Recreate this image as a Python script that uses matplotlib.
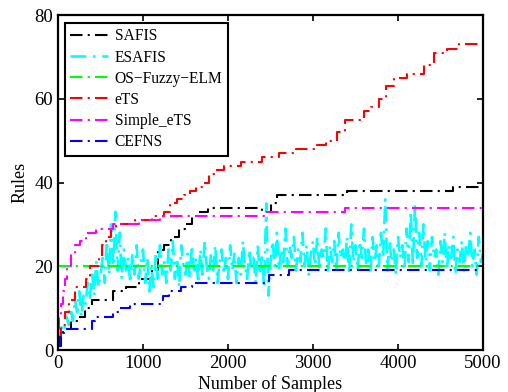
import matplotlib
matplotlib.use("Agg")
import matplotlib.pyplot as plt

plt.rcParams['font.family'] = ['Liberation Serif', 'DejaVu Serif']

# step series given as (sample, rules) breakpoints
safis_x = [0, 30, 60, 150, 250, 320, 400, 650, 800, 950, 1100, 1180, 1250, 1330, 1420,
           1500, 1580, 1650, 1760, 2400, 2500, 2580, 3400, 4650, 5000]
safis_y = [1, 3, 5, 7, 8, 10, 12, 14, 15, 17, 19, 24, 25, 27, 29,
           30, 32, 33, 34, 33, 35, 37, 38, 39, 39]

ets_x = [0, 40, 80, 130, 200, 330, 380, 480, 520, 570, 620, 680, 900, 1100, 1250, 1320,
         1400, 1480, 1550, 1620, 1700, 1780, 1850, 1950, 2150, 2400, 2600, 2800, 3050,
         3150, 3280, 3380, 3600, 3680, 3780, 3860, 3950, 4100, 4300, 4420, 4580, 4720, 5000]
ets_y = [3, 6, 9, 12, 15, 17, 20, 22, 25, 27, 29, 30, 31, 32, 33, 35,
         36, 37, 38, 39, 40, 42, 43, 44, 45, 46, 47, 48, 49,
         50, 52, 55, 57, 58, 60, 63, 65, 66, 68, 71, 72, 73, 73]

simple_x = [0, 15, 35, 55, 80, 110, 150, 200, 260, 330, 450, 650, 950, 1200, 2450, 3380, 5000]
simple_y = [5, 8, 11, 14, 17, 20, 23, 25, 26, 28, 29, 30, 31, 32, 33, 34, 34]

cefns_x = [0, 20, 50, 90, 400, 440, 650, 730, 850, 1200, 1240, 1300, 1450, 1580, 2480, 2720, 5000]
cefns_y = [1, 3, 4, 5, 7, 8, 9, 10, 11, 12, 13, 14, 15, 16, 18, 19, 19]

elm_x = [0, 5000]
elm_y = [20, 20]

# ESAFIS, read every 25 samples
esafis_step = 25
esafis_y = [2, 4, 6, 5, 8,
            6, 10, 7, 12, 9, 14, 8, 13,
            11, 16, 12, 19, 13, 21, 15, 18,
            22, 16, 26, 18, 30, 20, 33, 19,
            28, 17, 24, 19, 22, 16, 23, 18, 25, 17, 21, 24,
            16, 22, 14, 20, 15, 23, 17, 25, 18, 21,
            16, 24, 19, 26, 17, 22, 15, 25, 20, 18,
            23, 17, 25, 19, 22, 16, 24, 18, 26, 20,
            17, 23, 19, 25, 16, 21, 24, 18, 22, 17,
            25, 19, 23, 16, 22, 18, 26, 20, 17, 24,
            19, 22, 16, 25, 18, 23, 15, 35, 13, 21,
            26, 20, 28, 19, 24, 21, 29, 20, 25, 22,
            27, 19, 24, 21, 28, 20, 25, 18, 23, 26,
            20, 27, 19, 24, 22, 29, 18, 25, 21, 26,
            19, 28, 22, 24, 20, 27, 18, 30, 21, 25,
            19, 26, 22, 29, 20, 24, 18, 27, 21, 25,
            20, 28, 22, 36, 19, 26, 21, 24, 18, 27,
            22, 25, 19, 29, 21, 33, 20, 35, 22, 28,
            20, 30, 21, 26, 19, 27, 22, 24, 18, 26,
            21, 28, 19, 25, 22, 27, 18, 24, 21, 26,
            19, 25, 22, 28, 20, 24, 18, 27, 21, 23]
esafis_x = [i * esafis_step for i in range(len(esafis_y))]

fig = plt.figure(figsize=(5.08, 3.92), dpi=100)
ax = fig.add_axes([0.1142, 0.1071, 0.8366, 0.8546])

ls = (0, (6, 2.5, 1, 2.5))
lw = 1.5
ax.plot(safis_x, safis_y, color='black', ls=ls, lw=lw, drawstyle='steps-post', label='SAFIS')
ax.plot(esafis_x, esafis_y, color='cyan', ls=ls, lw=1.9, label='ESAFIS')
ax.plot(elm_x, elm_y, color='#00ff00', ls=ls, lw=lw, label='OS\u2212Fuzzy\u2212ELM')
ax.plot(ets_x, ets_y, color='red', ls=ls, lw=lw, drawstyle='steps-post', label='eTS')
ax.plot(simple_x, simple_y, color='magenta', ls=ls, lw=lw, drawstyle='steps-post', label='Simple_eTS')
ax.plot(cefns_x, cefns_y, color='blue', ls=ls, lw=lw, drawstyle='steps-post', label='CEFNS')

ax.set_xlim(0, 5000)
ax.set_ylim(0, 80)
ax.set_xticks([0, 1000, 2000, 3000, 4000, 5000])
ax.set_yticks([0, 20, 40, 60, 80])
ax.tick_params(direction='in', top=True, right=True, labelsize=13.5, length=4, width=1.2)
for s in ax.spines.values():
    s.set_linewidth(1.6)
ax.set_xlabel('Number of Samples', fontsize=13, labelpad=2)
ax.set_ylabel('Rules', fontsize=13, labelpad=4)

leg = ax.legend(loc='upper left', bbox_to_anchor=(0.016, 0.976), borderaxespad=0,
                fancybox=False, framealpha=1, edgecolor='black', fontsize=11.2,
                handlelength=2.4, handletextpad=0.45, labelspacing=0.33, borderpad=0.35)
leg.get_frame().set_linewidth(1.5)

fig.savefig('out.png', dpi=100)
